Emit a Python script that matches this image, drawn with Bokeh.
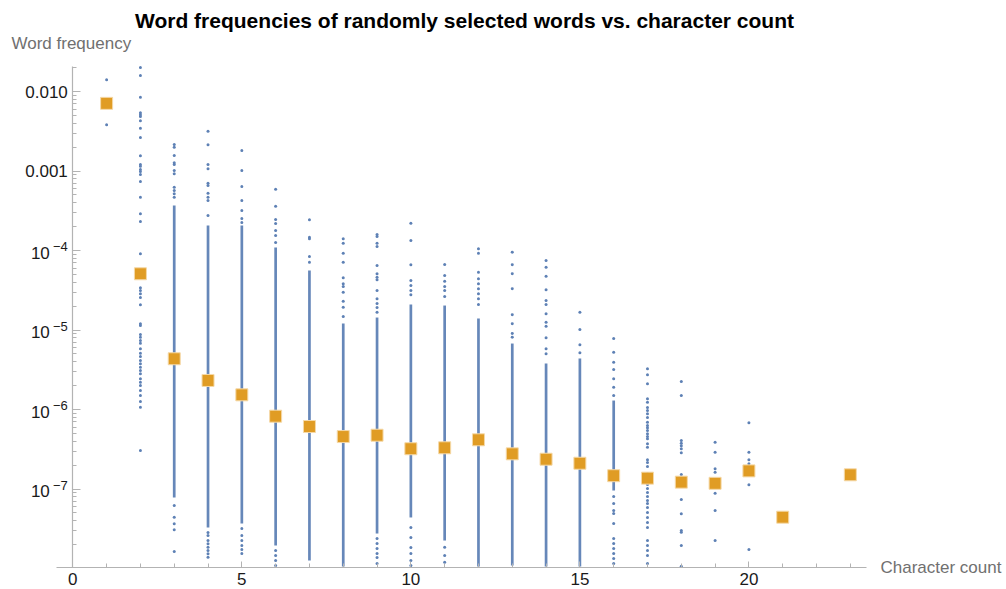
import numpy as np
from bokeh.plotting import figure
from bokeh.models import Range1d, FixedTicker, Label
from bokeh.core.properties import value
from bokeh.embed import file_html
from bokeh.resources import INLINE

# ---------------- data ----------------
# mean word frequency per character count (orange squares)
mean_count = [1, 2, 3, 4, 5, 6, 7, 8, 9, 10, 11, 12, 13, 14, 15, 16, 17, 18, 19, 20, 21, 23]
mean_freq = [7.1e-3, 5.1e-5, 4.35e-6, 2.32e-6, 1.53e-6, 8.24e-7, 6.11e-7, 4.57e-7,
             4.75e-7, 3.21e-7, 3.30e-7, 4.16e-7, 2.77e-7, 2.37e-7, 2.11e-7, 1.47e-7,
             1.37e-7, 1.22e-7, 1.18e-7, 1.69e-7, 4.42e-8, 1.51e-7]

# individual words: densely packed stretches (log10 of frequency) per character count
dense_count = [3, 4, 5, 6, 7, 8, 9, 10, 11, 12, 13, 14, 15, 16]
dense_log_hi = [-3.434, -3.686, -3.686, -3.962, -4.252, -4.918, -4.843, -4.679, -4.692,
                -4.855, -5.170, -5.421, -5.358, -5.887]
dense_log_lo = [-7.107, -7.484, -7.434, -7.711, -7.899, -7.975, -7.560, -7.358, -7.648,
                -7.975, -7.962, -7.975, -7.975, -7.019]

# individual words: separately visible points (log10 of frequency) per character count
words_c1 = [-1.853, -2.419]
words_c2 = [-1.698, -1.799, -2.072, -2.268, -2.293, -2.314, -2.369, -2.462, -2.579, -2.809,
            -2.918, -2.940, -2.981, -3.006, -3.044, -3.132, -3.330, -3.538, -3.635, -4.042,
            -4.469, -4.503, -4.545, -4.591, -4.683, -4.922, -4.943, -5.057, -5.091, -5.132,
            -5.166, -5.236, -5.292, -5.333, -5.384, -5.425, -5.468, -5.509, -5.551, -5.614,
            -5.657, -5.698, -5.761, -5.824, -5.899, -5.971, -6.516]
words_c3 = [-2.667, -2.701, -2.805, -2.897, -2.918, -2.994, -3.035, -3.204, -3.245, -3.287,
            -3.330, -7.208, -7.355, -7.438, -7.513, -7.786]
words_c4 = [-2.499, -2.670, -2.918, -2.972, -3.153, -3.182, -3.279, -3.330, -3.371, -3.560,
            -7.547, -7.585, -7.648, -7.689, -7.732, -7.774, -7.815, -7.858]
words_c5 = [-2.742, -2.994, -3.195, -3.371, -3.497, -3.597, -3.648, -7.497, -7.585, -7.648,
            -7.711, -7.761, -7.811]
words_c6 = [-3.228, -3.443, -3.610, -3.660, -3.748, -3.811, -3.899, -7.774, -7.836, -7.899,
            -7.962]
words_c7 = [-3.614, -3.833, -3.853, -4.075, -4.147]
words_c8 = [-3.853, -3.908, -4.034, -4.147, -4.343, -4.419, -4.453, -4.525, -4.638, -4.713,
            -4.830]
words_c9 = [-3.799, -3.824, -3.908, -3.950, -4.189, -4.293, -4.336, -4.369, -4.503, -4.608,
            -4.667, -4.717, -4.776, -7.623, -7.686, -7.748, -7.811, -7.862, -7.937]
words_c10 = [-3.657, -3.874, -4.180, -4.377, -4.440, -4.503, -4.557, -7.484, -7.610, -7.736,
             -7.811, -7.899, -7.962]
words_c11 = [-4.176, -4.314, -4.386, -4.453, -4.503, -4.579, -7.732, -7.836, -7.921]
words_c12 = [-3.979, -4.034, -4.273, -4.356, -4.419, -4.482, -4.545, -4.608, -4.679]
words_c13 = [-4.021, -4.180, -4.293, -4.482, -4.809, -4.922, -5.044, -5.091]
words_c14 = [-4.126, -4.210, -4.323, -4.494, -4.629, -4.679, -4.796, -4.902, -4.952, -5.098,
             -5.236, -5.299]
words_c15 = [-4.776, -4.994, -5.186, -5.287]
words_c16 = [-5.107, -5.279, -5.405, -5.497, -5.614, -5.719, -5.824, -7.094, -7.182, -7.270,
             -7.308, -7.434, -7.623, -7.686, -7.748, -7.811, -7.874, -7.937]
words_c17 = [-5.488, -5.564, -5.677, -5.865, -5.908, -5.975, -6.013, -6.054, -6.101, -6.160,
             -6.201, -6.230, -6.264, -6.306, -6.340, -6.369, -6.431, -6.474, -6.633, -6.667,
             -6.717, -6.805, -6.843, -6.893, -6.943, -6.994, -7.044, -7.094, -7.145, -7.182,
             -7.233, -7.296, -7.358, -7.421, -7.484, -7.648, -7.711, -7.774, -7.836, -7.937]
words_c18 = [-5.648, -5.824, -6.390, -6.424, -6.457, -6.494, -6.545, -6.818, -7.132, -7.312,
             -7.522, -7.543, -7.711, -7.971]
words_c19 = [-6.411, -6.537, -6.746, -6.789, -7.053, -7.270, -7.648]
words_c20 = [-6.167, -6.537, -6.633, -6.683, -6.947, -7.761]

x_major_ticks = [0, 5, 10, 15, 20]
y_major_ticks = [1e-7, 1e-6, 1e-5, 1e-4, 1e-3, 1e-2]
y_decimal_ticks = [1e-3, 1e-2]
y_decimal_labels = ["0.001", "0.010"]
y_power_ticks = [1e-7, 1e-6, 1e-5, 1e-4]
y_power_base = ["10", "10", "10", "10"]
y_power_exp = ["\u22127", "\u22126", "\u22125", "\u22124"]

title_text = "Word frequencies of randomly selected words vs. character count"
x_label = "Character count"
y_label = "Word frequency"

# ---------------- build ----------------
columns = [words_c1, words_c2, words_c3, words_c4, words_c5, words_c6, words_c7, words_c8,
           words_c9, words_c10, words_c11, words_c12, words_c13, words_c14, words_c15,
           words_c16, words_c17, words_c18, words_c19, words_c20]
pt_x, pt_y = [], []
for i, col in enumerate(columns):
    for v in col:
        pt_x.append(i + 1)
        pt_y.append(10.0 ** v)

BLUE = "#5E81B5"
ORANGE = "#E09C24"
AXIS = "#b3b3b3"
FONT = "Liberation Sans"
TICK_TXT = "#1a1a1a"

W, H = 1006, 589
X_LO, X_HI = -0.48, 23.48          # extent of the drawn x axis
Y_LO, Y_HI = 1.04e-8, 0.0205       # extent of the drawn y axis

p = figure(width=W, height=H, y_axis_type="log",
           x_range=Range1d(-2.139, 27.62), y_range=Range1d(10 ** -8.264, 10 ** -0.855),
           output_backend="svg", toolbar_location=None,
           min_border_left=0, min_border_right=0, min_border_top=0, min_border_bottom=0)
p.outline_line_color = None
p.xgrid.visible = False
p.ygrid.visible = False
p.background_fill_color = "white"
p.border_fill_color = "white"

# axes (drawn inside the frame, crossing at (0, Y_LO))
p.yaxis.fixed_location = 0
p.xaxis.fixed_location = Y_LO
p.xaxis.bounds = (X_LO, X_HI)
p.yaxis.bounds = (Y_LO, Y_HI)
for ax in (p.xaxis, p.yaxis):
    ax.axis_line_color = AXIS
    ax.axis_line_width = 1.2
    ax.major_tick_line_color = AXIS
    ax.minor_tick_line_color = AXIS
    ax.major_tick_out = 0
    ax.minor_tick_out = 0
    ax.major_label_text_font = FONT
    ax.major_label_text_font_size = "17px"
    ax.major_label_text_color = TICK_TXT

p.xaxis.ticker = FixedTicker(ticks=x_major_ticks, minor_ticks=list(range(0, 24)))
p.xaxis.major_tick_in = 6
p.xaxis.minor_tick_in = 4
p.xaxis.major_label_standoff = 6

minor_y = [k * 10.0 ** n for n in range(-8, -1) for k in range(2, 10)]
minor_y = [t for t in minor_y if Y_LO <= t <= Y_HI]
p.yaxis.ticker = FixedTicker(ticks=y_major_ticks, minor_ticks=minor_y)
p.yaxis.major_tick_in = 8
p.yaxis.minor_tick_in = 4
p.yaxis.major_label_standoff = 5
overrides = {t: s for t, s in zip(y_decimal_ticks, y_decimal_labels)}
overrides.update({t: "" for t in y_power_ticks})
p.yaxis.major_label_overrides = overrides

# power-of-ten tick labels with a raised exponent
p.text(x=[0] * len(y_power_ticks), y=y_power_ticks, text=y_power_base,
       x_offset=-23, y_offset=2, text_align="right", text_baseline="middle",
       text_font=value(FONT), text_font_size="17px", text_color=TICK_TXT)
p.text(x=[0] * len(y_power_ticks), y=y_power_ticks, text=y_power_exp,
       x_offset=-5, y_offset=-4, text_align="right", text_baseline="middle",
       text_font=value(FONT), text_font_size="13px", text_color=TICK_TXT)

# marks
p.segment(x0=dense_count, y0=[10.0 ** v for v in dense_log_lo],
          x1=dense_count, y1=[10.0 ** v for v in dense_log_hi],
          line_color=BLUE, line_width=2.7, line_alpha=0.95)
p.scatter(pt_x, pt_y, marker="circle", size=3, fill_color=BLUE, line_color=None)
p.scatter(mean_count, mean_freq, marker="square", size=12, fill_color=ORANGE,
          line_color="#F5D9A8", line_width=1)

# texts (screen units, measured from the bottom-left of the canvas)
p.add_layout(Label(x=464, y=H - 20, x_units="screen", y_units="screen",
                   text=title_text, text_align="center", text_baseline="alphabetic",
                   text_font=FONT, text_font_size="21px", text_font_style="bold",
                   text_color="black"))
p.add_layout(Label(x=11, y=H - 43, x_units="screen", y_units="screen",
                   text=y_label, text_align="left", text_baseline="alphabetic",
                   text_font=FONT, text_font_size="17px", text_color="#707070"))
p.add_layout(Label(x=880, y=H - 567, x_units="screen", y_units="screen",
                   text=x_label, text_align="left", text_baseline="alphabetic",
                   text_font=FONT, text_font_size="17px", text_color="#707070"))

open("out.html", "w").write(file_html(p, INLINE))
